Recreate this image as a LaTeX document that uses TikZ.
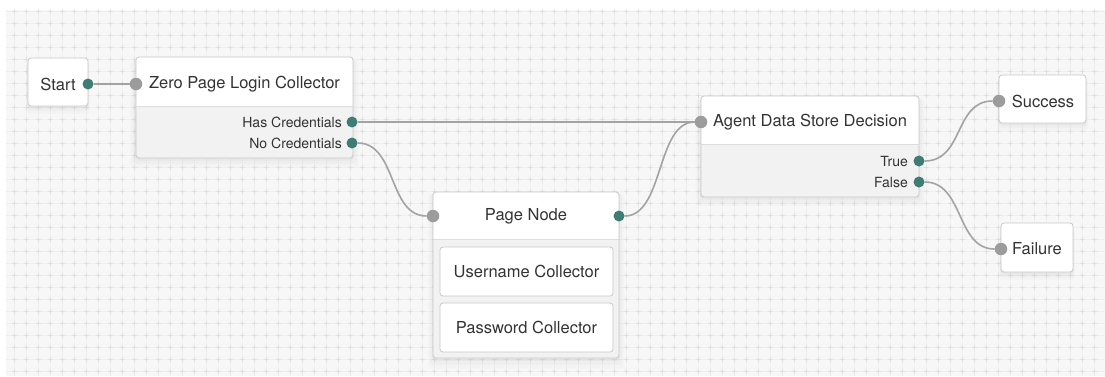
\documentclass[tikz,border=0pt]{standalone}
\usepackage{fontspec}
\setmainfont{TeX Gyre Heros}
\usetikzlibrary{shadows}

\definecolor{canvasbg}{HTML}{F7F7F7}
\definecolor{gridgray}{HTML}{EFEFEF}
\definecolor{crossgray}{HTML}{E0E0E0}
\definecolor{cardline}{HTML}{C8C8C8}
\definecolor{bodygray}{HTML}{F2F2F2}
\definecolor{divgray}{HTML}{DEDEDE}
\definecolor{wiregray}{HTML}{A3A3A3}
\definecolor{portteal}{HTML}{3F7D74}
\definecolor{portgray}{HTML}{9C9C9C}
\definecolor{inktext}{HTML}{333333}

\begin{document}
\begin{tikzpicture}[x=1pt, y=-1pt,
    card/.style={draw=cardline, fill=white, rounded corners=3pt, line width=0.8pt,
        inner sep=0pt,
        drop shadow={opacity=.05, shadow xshift=0pt, shadow yshift=-2pt, shadow scale=1.01},
        drop shadow={opacity=.04, shadow xshift=0pt, shadow yshift=-4pt, shadow scale=1.03},
        drop shadow={opacity=.03, shadow xshift=0pt, shadow yshift=-6pt, shadow scale=1.05}},
    cardbody/.style={path picture={
        \fill[bodygray] ([yshift=-#1]path picture bounding box.north west)
            rectangle (path picture bounding box.south east);
        \draw[divgray, line width=1pt] ([yshift=-#1]path picture bounding box.north west)
            -- ([yshift=-#1]path picture bounding box.north east);}},
    subcard/.style={draw=cardline, fill=white, rounded corners=3pt, line width=0.8pt,
        minimum width=173pt, minimum height=49pt, inner sep=0pt,
        font=\fontsize{16.5}{18}\selectfont, text=inktext},
    title/.style={font=\fontsize{16.5}{18}\selectfont, text=inktext, inner sep=0pt},
    outlabel/.style={font=\fontsize{14}{16}\selectfont, text=inktext, inner sep=0pt, anchor=east},
    outport/.style={circle, fill=portteal, minimum size=11pt, inner sep=0pt},
    inport/.style={circle, fill=portgray, minimum size=12.5pt, inner sep=0pt},
    wire/.style={draw=wiregray, line width=1.6pt},
    gridline/.style={draw=gridgray, line width=0.7pt},
    gridcross/.style={draw=crossgray, line width=0.8pt}
]
    \useasboundingbox (0,0) rectangle (1105,376);

    % Canvas with grid
    \fill[white] (0,0) rectangle (1105,376);
    \fill[canvasbg] (6,10) rectangle (1105,376);
    \foreach \x in {14,26,...,1104} \draw[gridline] (\x,10) -- (\x,376);
    \foreach \y in {11,23,...,371} \draw[gridline] (6,\y) -- (1105,\y);
    \foreach \x in {14,26,...,1104}
        \foreach \y in {11,23,...,371}
            \draw[gridcross] (\x-2.5,\y) -- (\x+2.5,\y) (\x,\y-2.5) -- (\x,\y+2.5);

    % Cards
    \node[card, minimum width=60pt, minimum height=48pt] (start) at (58,82) {};
    \node[card, cardbody=49pt, minimum width=217pt, minimum height=101pt] (login) at (244.5,107.5) {};
    \node[card, cardbody=47pt, minimum width=186pt, minimum height=166pt] (page) at (526,275) {};
    \node[card, cardbody=48pt, minimum width=218pt, minimum height=101pt] (agent) at (810,146.5) {};
    \node[card, minimum width=87pt, minimum height=48pt] (success) at (1042.5,99) {};
    \node[card, minimum width=72pt, minimum height=49pt] (failure) at (1037,247.5) {};

    % Titles
    \node[title] (start-title) at (58,84) {Start};
    \node[title] (login-title) at (244.5,84) {Zero Page Login Collector};
    \node[title] (page-title) at (526,216) {Page Node};
    \node[title] (agent-title) at (810,122) {Agent Data Store Decision};
    \node[title] (success-title) at (1043,101) {Success};
    \node[title] (failure-title) at (1037,249) {Failure};

    % Collectors inside the page node
    \node[subcard] (username) at (526.5,271.5) {Username Collector};
    \node[subcard] (password) at (526.5,327.5) {Password Collector};

    % Outcome labels
    \node[outlabel] (has-label) at (342,122) {Has Credentials};
    \node[outlabel] (no-label) at (342,143) {No Credentials};
    \node[outlabel] (true-label) at (908,161) {True};
    \node[outlabel] (false-label) at (908,182) {False};

    % Ports
    \node[outport] (start-out) at (88,84) {};
    \node[inport] (login-in) at (136,84) {};
    \node[outport] (login-has) at (352,122) {};
    \node[outport] (login-no) at (352,143) {};
    \node[inport] (page-in) at (433,216) {};
    \node[outport] (page-out) at (619,216) {};
    \node[inport] (agent-in) at (701,122) {};
    \node[outport] (agent-true) at (919,161) {};
    \node[outport] (agent-false) at (919,182) {};
    \node[inport] (success-in) at (999,101) {};
    \node[inport] (failure-in) at (1001,249) {};

    % Connections
    \draw[wire] (start-out) -- (login-in);
    \draw[wire] (login-has) -- (agent-in);
    \draw[wire] (login-no) .. controls +(45,0) and +(-45,0) .. (page-in);
    \draw[wire] (page-out) .. controls +(45,0) and +(-45,0) .. (agent-in);
    \draw[wire] (agent-true) .. controls +(45,0) and +(-45,0) .. (success-in);
    \draw[wire] (agent-false) .. controls +(45,0) and +(-45,0) .. (failure-in);
\end{tikzpicture}
\end{document}
